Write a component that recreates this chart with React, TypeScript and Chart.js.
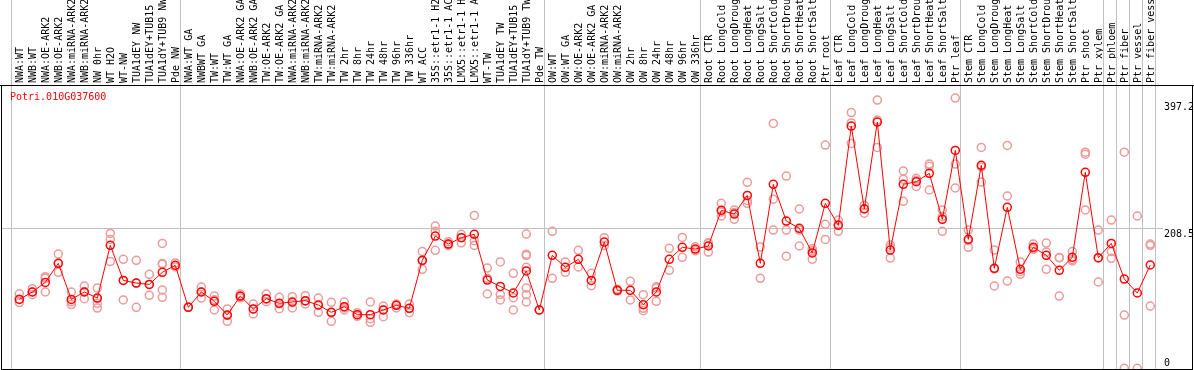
import React, { useEffect, useRef } from "react";
import { Chart, registerables } from "chart.js";

Chart.register(...registerables);

const title = "Potri.010G037600";

const categories: string[] = [
  "NWA:WT", "NWB:WT", "NWA:OE-ARK2", "NWB:OE-ARK2", "NWA:miRNA-ARK2", "NWB:miRNA-ARK2",
  "NW 0hr", "WT H2O", "WT-NW", "TUA1dEY NW", "TUA1dEY+TUB15", "TUA1dY+TUB9 NW", "Pde NW",
  "NWA:WT GA", "NWBWT GA", "TW:WT", "TW:WT GA", "NWA:OE-ARK2 GA", "NWB:OE-ARK2 GA",
  "TW:OE-ARK2", "TW:OE-ARK2 GA", "NWA:miRNA-ARK2", "NWB:miRNA-ARK2", "TW:miRNA-ARK2",
  "TW:miRNA-ARK2", "TW 2hr", "TW 8hr", "TW 24hr", "TW 48hr", "TW 96hr", "TW 336hr",
  "WT ACC", "35S::etr1-1 H2", "35S::etr1-1 AC", "LMX5::etr1-1 H", "LMX5::etr1-1 A",
  "WT-TW", "TUA1dEY TW", "TUA1dEY+TUB15", "TUA1dY+TUB9 TW", "Pde TW",
  "OW:WT", "OW:WT GA", "OW:OE-ARK2", "OW:OE-ARK2 GA", "OW:miRNA-ARK2", "OW:miRNA-ARK2",
  "OW 2hr", "OW 8hr", "OW 24hr", "OW 48hr", "OW 96hr", "OW 336hr",
  "Root CTR", "Root LongCold", "Root LongDroug", "Root LongHeat", "Root LongSalt",
  "Root ShortCold", "Root ShortDrou", "Root ShortHeat", "Root ShortSalt", "Ptr root",
  "Leaf CTR", "Leaf LongCold", "Leaf LongDroug", "Leaf LongHeat", "Leaf LongSalt",
  "Leaf ShortCold", "Leaf ShortDrou", "Leaf ShortHeat", "Leaf ShortSalt", "Ptr leaf",
  "Stem CTR", "Stem LongCold", "Stem LongDroug", "Stem LongHeat", "Stem LongSalt",
  "Stem ShortCold", "Stem ShortDrou", "Stem ShortHeat", "Stem ShortSalt", "Ptr shoot",
  "Ptr xylem", "Ptr phloem", "Ptr fiber", "Ptr vessel", "Ptr fiber vessel",
];

const means: number[] = [
  102.7, 113.7, 128, 156.4, 102.7, 113.7, 104.7, 183.2, 131, 127, 125, 143, 153.4,
  90.8, 113.7, 99.8, 79.4, 107.7, 88.4, 103.7, 96.8, 98.8, 100.8, 94.3, 83.4, 91.8,
  79.9, 79.9, 86.9, 93.8, 89.4, 160.8, 197, 185, 194.6, 199.6, 131.5, 122, 112.2, 145, 86.9,
  168.3, 150.4, 162.3, 131, 188.1, 116.2, 116.2, 94.8, 113.7, 162.3, 180.2, 177.7,
  182.2, 235.3, 229.8, 257.6, 156.4, 274, 219.4, 208.5, 171.8, 245.7,
  213, 360.9, 237.3, 366.8, 176.2, 274, 278, 290.4, 221.9, 324.6,
  192.1, 302.3, 148.9, 239.8, 147.4, 180.2, 168.3, 146, 165.3, 291.9,
  164.8, 186.1, 133, 112.2, 153.9,
];

const replicates: number[][] = [
  [111, 103, 98], [118.6, 113.7, 109.7], [136.5, 134, 113.7], [170.3, 156, 143],
  [113.7, 99, 95], [122.6, 114, 103.7], [119.6, 104, 96.8, 89.8], [201, 192, 159],
  [162.3, 131, 101.8], [160.8, 127, 90.8], [140, 125, 108.7], [186, 156, 155, 116.7, 105.7],
  [157, 151],
  [90.8, 91.5], [121, 113.7, 104.7], [107.7, 102, 86.9], [88.4, 79, 70], [110.7, 107, 105],
  [95.8, 88, 80.9], [110.7, 103, 99.3], [105.7, 96, 88.9], [106.7, 98, 90], [108.2, 100, 95.8],
  [104.7, 94, 83.4], [98.3, 83, 70], [98.8, 90, 86.9], [82.9, 79.9, 77.5], [98.8, 74, 68.5],
  [92.8, 87, 77], [95.8, 93.8, 90], [95.8, 89, 82.9], [174, 160, 147.4], [212, 204, 175.7],
  [188.6, 185, 183], [199.6, 195, 187], [227.8, 190, 183], [149.4, 134, 110.7],
  [158.4, 110, 101.8], [141.5, 105.2, 86.9], [200, 170, 168, 150.4, 119.6, 109.7, 98.8],
  [86.9, 87],
  [204, 134], [158.4, 143], [175.7, 151], [141.5, 123], [194.6, 183], [117.6, 115],
  [129.6, 101.8], [109.7, 89.4, 85.9], [119.6, 121.5, 99.8], [178.7, 146], [195, 165.3],
  [181, 175],
  [187, 173.2, 186], [245.7, 226.9, 233], [235.8, 221.9, 232], [277, 245.7, 250],
  [180.7, 134], [364.8, 252, 206], [286.4, 206, 167], [237.3, 182.2, 206],
  [178, 162.3, 175], [332.6, 214.5, 192],
  [220.9, 204, 214], [381, 365.5, 335], [243, 231, 238], [399.6, 369.8, 329],
  [183.7, 164.3, 180], [293.9, 281.5, 248.7], [283, 271, 280], [304.3, 265.6, 301],
  [235.8, 204, 226], [402.6, 304.3, 268.6],
  [206, 180.2, 190], [329, 277.5, 300], [176.2, 122.6, 148], [332, 256.6, 130],
  [158.4, 140, 144], [185, 178, 177.5], [186.6, 173.2, 147.4], [164.8, 107.7, 165],
  [174, 162, 160], [322, 319, 235.8], [206, 164, 128.6],
  [220.9, 174, 163.8], [322, 79.4, 0], [226.9, 0], [185, 183, 92.8],
];

// group boundaries (category index where a new group starts)
const groupStarts: number[] = [0, 13, 41, 53, 63, 73, 84, 85, 86, 87, 88];
const yTicks: number[] = [397.2, 208.5, 0];
const yGrid: number[] = [208.5];

const FONT = "10px 'DejaVu Sans Mono', monospace";

const decorPlugin = {
  id: "decor",
  beforeDatasetsDraw(chart: any) {
    const ctx = chart.ctx;
    const xs = chart.scales.x;
    const ys = chart.scales.y;
    const area = chart.chartArea;
    ctx.save();
    // category labels
    ctx.fillStyle = "#000000";
    ctx.font = FONT;
    ctx.textAlign = "left";
    ctx.textBaseline = "alphabetic";
    categories.forEach((c, i) => {
      const px = xs.getPixelForValue(i) + 4;
      ctx.save();
      ctx.translate(px, area.top - 2);
      ctx.rotate(-Math.PI / 2);
      ctx.fillText(c, 0, 0);
      ctx.restore();
    });
    // vertical grid lines at group boundaries
    ctx.fillStyle = "#c0c0c0";
    groupStarts.forEach((g) => {
      const px = Math.round(xs.getPixelForValue(g) - 8.3);
      ctx.fillRect(px, 0, 1, area.bottom);
    });
    // horizontal grid line
    yGrid.forEach((v) => {
      const py = Math.round(ys.getPixelForValue(v));
      ctx.fillRect(area.left, py, 1163 - area.left, 1);
    });
    // title
    ctx.fillStyle = "#ff0000";
    ctx.textBaseline = "top";
    ctx.fillText(title, 10, 92);
    // y tick labels
    ctx.fillStyle = "#000000";
    yTicks.forEach((v) => {
      let py = ys.getPixelForValue(v);
      if (py > area.bottom - 12) py = area.bottom - 12;
      ctx.fillText(String(v), 1164, py + 1);
    });
    ctx.restore();
  },
  afterDatasetsDraw(chart: any) {
    const ctx = chart.ctx;
    const area = chart.chartArea;
    ctx.save();
    ctx.fillStyle = "#000000";
    ctx.fillRect(0, area.top, chart.width, 1);
    ctx.fillRect(area.left, area.top, 1, area.bottom - area.top + 1);
    ctx.fillRect(area.left, area.bottom, area.right - area.left + 1, 1);
    ctx.fillRect(area.right, area.top, 1, area.bottom - area.top + 1);
    ctx.restore();
  },
};

const whiteBg = {
  id: "whiteBg",
  beforeDraw(chart: any) {
    const ctx = chart.ctx;
    ctx.save();
    ctx.fillStyle = "#ffffff";
    ctx.fillRect(0, 0, chart.width, chart.height);
    ctx.restore();
  },
};

export default function App() {
  const ref = useRef<HTMLCanvasElement | null>(null);
  useEffect(() => {
    document.body.style.margin = "0";
    const canvas = ref.current;
    if (!canvas) return;
    const meanPoints = means.map((v, i) => ({ x: i, y: v }));
    const repPoints: { x: number; y: number }[] = [];
    replicates.forEach((arr, i) => arr.forEach((v) => repPoints.push({ x: i, y: v })));
    const chart = new Chart(canvas, {
      type: "line",
      data: {
        datasets: [
          {
            type: "line",
            label: "mean",
            data: meanPoints,
            borderColor: "#ff0000",
            borderWidth: 1,
            pointRadius: 4,
            pointBorderWidth: 1.5,
            pointBorderColor: "#ff0000",
            pointBackgroundColor: "rgba(0,0,0,0)",
            fill: false,
            tension: 0,
            clip: false as any,
            order: 0,
          },
          {
            type: "scatter",
            label: "replicates",
            data: repPoints,
            borderColor: "#ec9a9a",
            backgroundColor: "rgba(0,0,0,0)",
            pointRadius: 4,
            borderWidth: 1.5,
            showLine: false,
            clip: false as any,
            order: 1,
          } as any,
        ],
      },
      options: {
        responsive: false,
        animation: false,
        devicePixelRatio: 1,
        layout: { autoPadding: false, padding: { left: 1, right: 2, top: 85, bottom: 1 } },
        plugins: { legend: { display: false }, tooltip: { enabled: false } },
        scales: {
          x: { type: "linear", display: false, min: -1.408, max: 90.208 },
          y: { type: "linear", display: false, min: -1, max: 422 },
        },
      },
      plugins: [whiteBg, decorPlugin],
    });
    return () => chart.destroy();
  }, []);
  return <canvas ref={ref} width={1194} height={370} style={{ display: "block" }} />;
}
